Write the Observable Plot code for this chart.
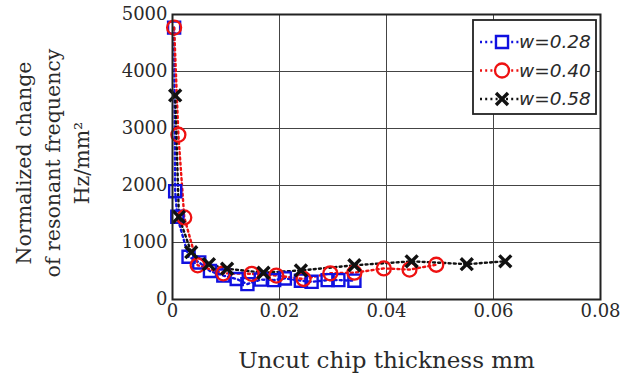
<!DOCTYPE html>
<html>
<head>
<meta charset="utf-8">
<script src="https://cdn.jsdelivr.net/npm/d3@7"></script>
<script src="https://cdn.jsdelivr.net/npm/@observablehq/plot@0.6"></script>
<style>
  html, body { margin: 0; padding: 0; background: #fff; }
  #chart { position: relative; width: 635px; height: 378px; }
</style>
</head>
<body>
<div id="chart"></div>
<script>
// ---- data ----
const seriesNames = ["w=0.28", "w=0.40", "w=0.58"];
const seriesColors = ["#1010e0", "#ee1111", "#111111"];
const seriesSymbols = ["square", "circle", "times"];

const x028 = [0.0003, 0.0005, 0.0009, 0.003, 0.005, 0.007, 0.0095, 0.012, 0.014, 0.0165, 0.019, 0.021, 0.024, 0.026, 0.029, 0.031, 0.034];
const y028 = [4770, 1900, 1450, 750, 650, 500, 420, 360, 270, 350, 340, 370, 330, 310, 340, 340, 330];

const x040 = [0.0003, 0.0011, 0.0022, 0.0047, 0.0095, 0.0148, 0.0194, 0.0245, 0.0295, 0.034, 0.0395, 0.0443, 0.0493];
const y040 = [4770, 2890, 1440, 600, 460, 450, 420, 360, 460, 470, 545, 525, 610];

const x058 = [0.0005, 0.0012, 0.0035, 0.0068, 0.0102, 0.017, 0.024, 0.034, 0.0447, 0.055, 0.0622];
const y058 = [3580, 1450, 830, 620, 540, 470, 510, 600, 670, 620, 670];

const xTicks = [0, 0.02, 0.04, 0.06, 0.08];
const yTicks = [0, 1000, 2000, 3000, 4000, 5000];
const xGrid = [0.02, 0.04, 0.06];
const yGrid = [1000, 2000, 3000, 4000];
const xTitle = "Uncut chip thickness mm";
const yTitle = "Normalized change\nof resonant frequency\nHz/mm\u00B2";

const xs = [x028, x040, x058];
const ys = [y028, y040, y058];
const rows = [];
seriesNames.forEach((s, i) => xs[i].forEach((x, j) => rows.push({series: s, x, y: ys[i][j]})));

const dash = "2 3.2";
const symR = [6.8, 7, 5.5];
const symW = [2.4, 2.3, 3.4];

const marks = [
  Plot.gridX(xGrid, {stroke: "#444", strokeOpacity: 1, strokeWidth: 1}),
  Plot.gridY(yGrid, {stroke: "#444", strokeOpacity: 1, strokeWidth: 1}),
];
seriesNames.forEach((s, i) => {
  const d = rows.filter(r => r.series === s);
  marks.push(Plot.line(d, {x: "x", y: "y", stroke: seriesColors[i], strokeWidth: 2.4, strokeDasharray: dash}));
});
seriesNames.forEach((s, i) => {
  const d = rows.filter(r => r.series === s);
  marks.push(Plot.dot(d, {x: "x", y: "y", symbol: () => seriesSymbols[i], stroke: seriesColors[i],
    strokeWidth: symW[i], r: symR[i], fill: "none"}));
});
marks.push(
  Plot.frame({stroke: "#222", strokeWidth: 2}),
  Plot.axisX(xTicks, {tickSize: 0, tickPadding: 5, tickFormat: d => d === 0 ? "0" : String(d), fontSize: 18, fill: "#2a2a2a"}),
  Plot.axisY(yTicks, {tickSize: 0, tickPadding: 5, tickFormat: d => String(d), fontSize: 18, fill: "#2a2a2a"}),
  Plot.text([xTitle], {frameAnchor: "bottom", dy: 61, lineAnchor: "middle", fontSize: 23, fill: "#2a2a2a"}),
  Plot.text([yTitle], {frameAnchor: "left", textAnchor: "middle", rotate: -90, dx: -122, dy: 6, lineAnchor: "middle", lineHeight: 1.42, fontSize: 20.5, fill: "#2a2a2a"})
);

const chart = Plot.plot({
  width: 635,
  height: 378,
  marginLeft: 172,
  marginRight: 35,
  marginTop: 14,
  marginBottom: 79,
  style: {fontFamily: "DejaVu Serif", background: "#fff", color: "#2a2a2a"},
  x: {domain: [0, 0.08], label: null},
  y: {domain: [0, 5000], label: null},
  marks
});
document.getElementById("chart").appendChild(chart);

// ---- legend drawn into the same svg ----
const svg = d3.select(chart);
const lg = svg.append("g").attr("transform", "translate(473,20)");
lg.append("rect").attr("width", 123).attr("height", 94).attr("fill", "#fff").attr("stroke", "#222").attr("stroke-width", 1.8);
const d3Syms = [d3.symbolSquare, d3.symbolCircle, d3.symbolTimes];
seriesNames.forEach((s, i) => {
  const yy = 22 + i * 28.5;
  const g = lg.append("g").attr("transform", `translate(0,${yy})`);
  g.append("line").attr("x1", 7).attr("x2", 46).attr("stroke", seriesColors[i]).attr("stroke-width", 2.4).attr("stroke-dasharray", dash);
  const sym = d3.symbol().type(d3Syms[i]).size(Math.PI * symR[i] * symR[i]);
  g.append("path").attr("transform", "translate(29,0)").attr("d", sym()).attr("fill", "#fff").attr("stroke", seriesColors[i]).attr("stroke-width", symW[i]);
  g.append("text").attr("x", 46).attr("dy", "0.35em").attr("text-anchor", "start").attr("font-family", "DejaVu Sans").attr("font-style", "italic").attr("font-size", 18.5).attr("fill", "#2a2a2a").text(s);
});
</script>
</body>
</html>
